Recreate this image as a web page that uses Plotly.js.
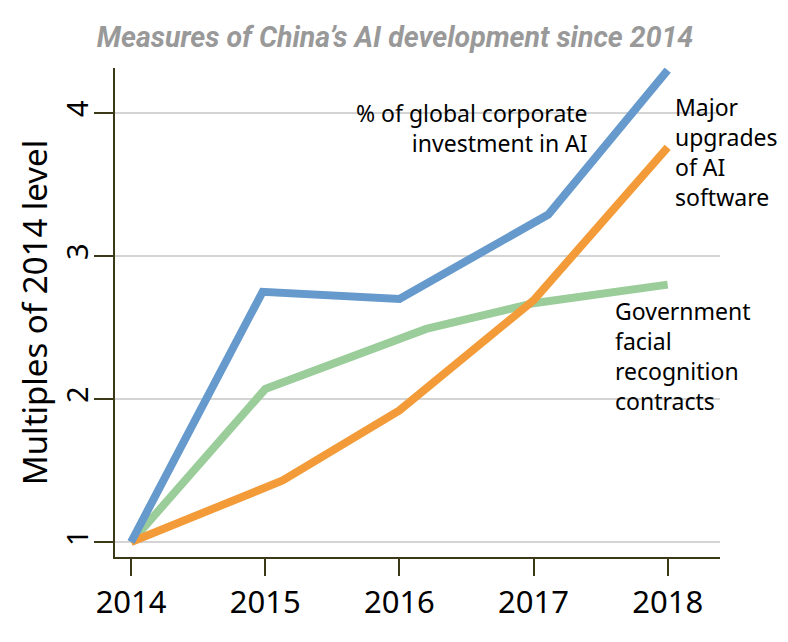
<!DOCTYPE html>
<html>
<head>
<meta charset="utf-8">
<script src="https://cdn.plot.ly/plotly-3.0.1.min.js"></script>
<style>html,body{margin:0;padding:0;background:#fff;}#chart{width:788px;height:642px;}</style>
</head>
<body>
<div id="chart"></div>
<script>
// Data (multiples of 2014 level)
const investYears = [2014, 2014.98, 2016.0, 2017.11, 2018];
const investValues = [1.0, 2.75, 2.70, 3.29, 4.30];

const softwareYears = [2014, 2015.13, 2016.0, 2017.0, 2018];
const softwareValues = [1.0, 1.43, 1.92, 2.69, 3.76];

const facialYears = [2014, 2015.0, 2016.2, 2017.0, 2018];
const facialValues = [1.0, 2.07, 2.49, 2.67, 2.80];

const xTicks = [2014, 2015, 2016, 2017, 2018];
const yTicks = [1, 2, 3, 4];

const seriesNames = ["% of global corporate investment in AI", "Major upgrades of AI software", "Government facial recognition contracts"];
const labelInvest = "% of global corporate<br>investment in AI";
const labelSoftware = "Major<br>upgrades<br>of AI<br>software";
const labelFacial = "Government<br>facial<br>recognition<br>contracts";
const titleText = "Measures of China’s AI development since 2014";
const yTitle = "Multiples of 2014 level";

const FONT = "'Noto Sans', 'DejaVu Sans', sans-serif";
const AXIS = "#3b3917";

const traces = [
  {x: facialYears, y: facialValues, name: seriesNames[2], mode: "lines", line: {color: "#9acd9a", width: 8}},
  {x: softwareYears, y: softwareValues, name: seriesNames[1], mode: "lines", line: {color: "#f29b38", width: 8}},
  {x: investYears, y: investValues, name: seriesNames[0], mode: "lines", line: {color: "#6699cc", width: 8}}
];

const layout = {
  width: 788, height: 642,
  margin: {l: 115, r: 68, t: 68, b: 85},
  paper_bgcolor: "#fff", plot_bgcolor: "#fff",
  showlegend: false,
  font: {family: FONT, color: "#000"},
  title: {
    text: "<b><i>" + titleText + "</i></b>",
    font: {family: "Roboto, 'Noto Sans', sans-serif", size: 28.5, color: "#999999"},
    x: 395/788, xref: "container", xanchor: "center",
    y: 1 - 37/642, yref: "container", yanchor: "middle"
  },
  xaxis: {
    range: [2013.88, 2018.39],
    tickvals: xTicks, ticktext: xTicks.map(String),
    ticks: "outside", ticklen: 17, tickwidth: 2, tickcolor: AXIS,
    showline: true, linecolor: AXIS, linewidth: 2,
    showgrid: false, zeroline: false,
    tickfont: {size: 31, family: FONT, color: "#000"}
  },
  yaxis: {
    range: [0.895, 4.315],
    tickvals: yTicks, ticktext: yTicks.map(String),
    ticks: "outside", ticklen: 19, tickwidth: 2, tickcolor: AXIS,
    showline: true, linecolor: AXIS, linewidth: 2,
    showgrid: true, gridcolor: "#d4d4d4", gridwidth: 1.5,
    zeroline: false, tickangle: -90,
    ticklabelstandoff: -6,
    tickfont: {size: 29, family: FONT, color: "#000"},
    title: {text: yTitle, font: {size: 33, family: FONT, color: "#000"}, standoff: 0}
  },
  annotations: [
    {x: 590, y: 128, text: labelInvest, showarrow: false, align: "right", xanchor: "right", yanchor: "middle",
     font: {size: 23, family: FONT, color: "#000"}},
    {x: 673, y: 152, text: labelSoftware, showarrow: false, align: "left", xanchor: "left", yanchor: "middle",
     font: {size: 23, family: FONT, color: "#000"}},
    {x: 613, y: 356, text: labelFacial, showarrow: false, align: "left", xanchor: "left", yanchor: "middle",
     font: {size: 23, family: FONT, color: "#000"}}
  ]
};

// convert pixel-positioned annotation anchors to paper coordinates
const plotW = 788 - 115 - 68, plotH = 642 - 68 - 85;
layout.annotations.forEach(a => {
  a.xref = "paper"; a.yref = "paper";
  a.x = (a.x - 115) / plotW;
  a.y = 1 - (a.y - 68) / plotH;
});

Plotly.newPlot("chart", traces, layout, {displayModeBar: false, staticPlot: true});
</script>
</body>
</html>
